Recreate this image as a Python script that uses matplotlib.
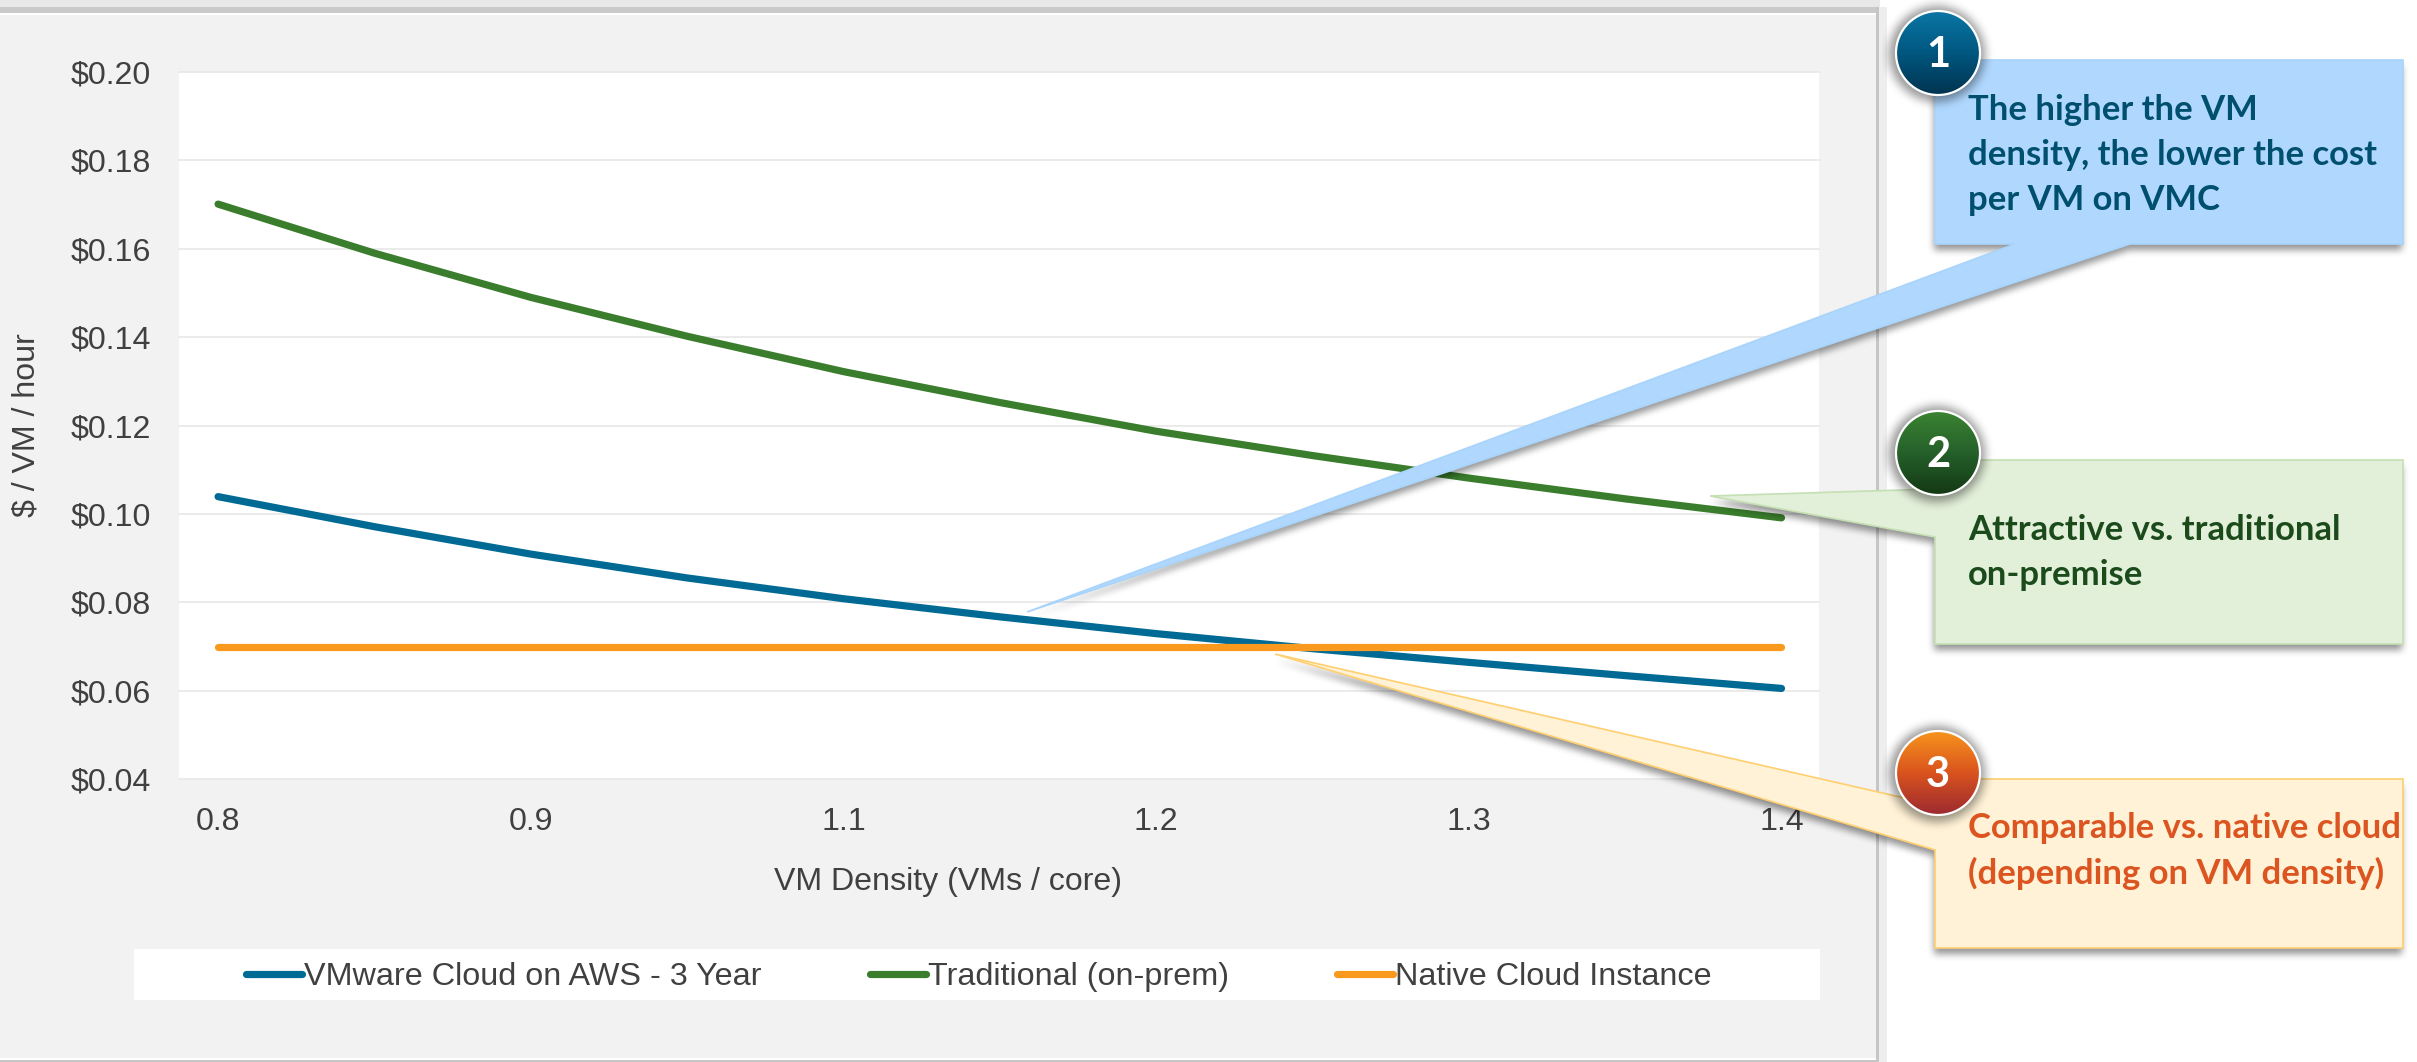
import numpy as np
import matplotlib
matplotlib.use("Agg")
import matplotlib.pyplot as plt
from matplotlib.patches import Rectangle, Polygon, Circle
from matplotlib.path import Path
from matplotlib.colors import LinearSegmentedColormap

# ---- data ----
density_labels = ["0.8", "0.9", "1.1", "1.2", "1.3", "1.4"]
sample_pos = [0, 0.5, 1, 1.5, 2, 2.5, 3, 3.5, 4, 4.5, 5]
vmc_cost = [0.1039, 0.0971, 0.0909, 0.0855, 0.0808, 0.0767, 0.0729, 0.0695, 0.0664, 0.0634, 0.0605]
trad_cost = [0.1701, 0.1590, 0.1490, 0.1402, 0.1322, 0.1252, 0.1187, 0.1132, 0.1081, 0.1034, 0.0991]
native_cost = [0.0698] * 11
y_ticks = [0.04, 0.06, 0.08, 0.10, 0.12, 0.14, 0.16, 0.18, 0.20]
series_names = ["VMware Cloud on AWS - 3 Year", "Traditional (on-prem)", "Native Cloud Instance"]
callout_texts = ["The higher the VM\ndensity, the lower the cost\nper VM on VMC",
                 "Attractive vs. traditional\non-premise",
                 "Comparable vs. native cloud\n(depending on VM density)"]

W, H = 2417, 1062
BLUE, GREEN, ORANGE = "#006a94", "#3a7d2c", "#f9991d"
TXT = "#404040"
FS = 23.1
plt.rcParams["font.family"] = ["Liberation Sans", "DejaVu Sans"]

fig = plt.figure(figsize=(W / 100, H / 100), dpi=100, facecolor="white")

# background layer (pixel coordinates of the picture)
bg = fig.add_axes([0, 0, 1, 1], zorder=0)
bg.set_xlim(0, W); bg.set_ylim(H, 0); bg.axis("off")
for x, y, w, h, c in [(0, 0, 1880, 7, "#e8e8e8"), (0, 7, 1880, 6, "#cacaca"),
                      (0, 15, 1876, 1043, "#f2f2f2"),
                      (1876, 7, 3, 1055, "#c6c6c6"), (1879, 7, 8, 1055, "#eeeeee"),
                      (0, 1060, 1879, 2, "#c6c6c6")]:
    bg.add_patch(Rectangle((x, y), w, h, fc=c, ec="none"))
bg.add_patch(Rectangle((134, 949), 1686, 51, fc="white", ec="none"))

# chart
ax = fig.add_axes([179 / W, 1 - 779 / H, 1640 / W, 707 / H], zorder=1)
ax.set_facecolor("white")
ax.set_xlim(-0.125, 5.12)
ax.set_ylim(0.04, 0.20)
for s in ax.spines.values():
    s.set_visible(False)
ax.set_yticks(y_ticks)
ax.set_yticklabels([f"${v:.2f}" for v in y_ticks])
ax.set_xticks(range(len(density_labels)))
ax.set_xticklabels(density_labels)
ax.tick_params(axis="both", length=0, labelsize=FS, labelcolor=TXT)
ax.tick_params(axis="y", pad=20)
ax.tick_params(axis="x", pad=20.5)
ax.yaxis.grid(True, color="#e9e9e9", lw=1.3, zorder=1, clip_on=False)
ax.set_axisbelow(True)
LW = 5.2
l1, = ax.plot(sample_pos, vmc_cost, color=BLUE, lw=LW, solid_capstyle="round", zorder=3)
l2, = ax.plot(sample_pos, trad_cost, color=GREEN, lw=LW, solid_capstyle="round", zorder=3)
l3, = ax.plot(sample_pos, native_cost, color=ORANGE, lw=LW, solid_capstyle="round", zorder=4)
ax.set_xlabel("VM Density (VMs / core)", fontsize=FS, color=TXT, va="center")
ax.xaxis.set_label_coords((948 - 179) / 1640, -(882 - 779) / 707)
ax.set_ylabel("$ / VM / hour", fontsize=FS, color=TXT, va="center")
ax.yaxis.set_label_coords((27 - 179) / 1640, 0.5)
leg = ax.legend([l1, l2, l3], series_names, ncol=3, frameon=False, fontsize=23.3,
                labelcolor=TXT, loc="center left",
                bbox_to_anchor=(246 / W, 1 - 977 / H), bbox_transform=fig.transFigure,
                borderaxespad=0, borderpad=0, handlelength=1.74, handletextpad=0.06,
                columnspacing=3.34)

# callouts layer
ov = fig.add_axes([0, 0, 1, 1], zorder=2)
ov.set_xlim(0, W); ov.set_ylim(H, 0); ov.axis("off"); ov.patch.set_alpha(0)


def box_blur(a, r, passes=3):
    for axis in (0, 1):
        for _ in range(passes):
            pad = [(0, 0), (0, 0)]
            pad[axis] = (r + 1, r)
            c = np.cumsum(np.pad(a, pad, mode="edge"), axis=axis)
            if axis == 0:
                a = (c[2 * r + 1:, :] - c[:-(2 * r + 1), :]) / (2 * r + 1)
            else:
                a = (c[:, 2 * r + 1:] - c[:, :-(2 * r + 1)]) / (2 * r + 1)
    return a


def soft_shadow(paths, r, alpha, zorder):
    gx, gy = np.meshgrid(np.arange(W) + 0.5, np.arange(H) + 0.5)
    pts = np.column_stack([gx.ravel(), gy.ravel()])
    mask = np.zeros((H, W))
    for pth in paths:
        mask = np.maximum(mask, pth.contains_points(pts).reshape(H, W).astype(float))
    rgba = np.zeros((H, W, 4))
    rgba[..., 3] = box_blur(mask, r) * alpha
    ov.imshow(rgba, extent=(0, W, H, 0), aspect="auto", interpolation="nearest", zorder=zorder)


shapes = [
    ([(1935, 60), (2403, 60), (2403, 244), (2130, 244), (1027, 612), (2015, 244), (1935, 244)],
     "#b0d8ff", "#a8d4fb"),
    ([(1935, 460), (2403, 460), (2403, 644), (1935, 644), (1935, 537), (1710, 496), (1935, 489)],
     "#e2efd9", "#c5e0b3"),
    ([(1935, 779), (2403, 779), (2403, 948), (1935, 948), (1935, 850), (1275, 654), (1935, 805)],
     "#fff2d6", "#ffcf70"),
]
soft_shadow([Path(np.vstack([np.array(p, float) + [-1, 6], p[0]]), closed=True) for p, _, _ in shapes],
            3, 0.42, 2)
for pts, fc, ec in shapes:
    ov.add_patch(Polygon(pts, closed=True, fc=fc, ec=ec, lw=1.2, joinstyle="miter", zorder=3))

circles = [((1938, 53), "1", ["#0a76a6", "#00577f", "#003350"]),
           ((1938, 453), "2", ["#3b8332", "#25602a", "#143814"]),
           ((1938, 773), "3", ["#f7941d", "#d9531e", "#9c2a30"])]
R = 42
soft_shadow([Path.circle((cx - 1, cy + 1), R + 6) for (cx, cy), _, _ in circles], 4, 0.4, 4)
for (cx, cy), num, cols in circles:
    grad = np.linspace(0, 1, 128).reshape(-1, 1)
    im = ov.imshow(grad, extent=(cx - R, cx + R, cy + R, cy - R), aspect="auto", origin="upper",
                   cmap=LinearSegmentedColormap.from_list("g", cols), zorder=5)
    im.set_clip_path(Circle((cx, cy), R, transform=ov.transData))
    ov.add_patch(Circle((cx, cy), R, fc="none", ec="white", lw=1.6, zorder=6))
    ov.text(cx, cy + 2, num, color="white", fontsize=30, fontweight="bold", family="Lato",
            ha="center", va="center", zorder=7)
ov.set_xlim(0, W); ov.set_ylim(H, 0)

text_specs = [(callout_texts[0], [110, 155, 200], "#004f6e"),
              (callout_texts[1], [530, 575], "#1b4a1b"),
              (callout_texts[2], [828, 873], "#dc5420")]
for txt, ys, col in text_specs:
    for line, y in zip(txt.split("\n"), ys):
        ov.text(1968, y, line, color=col, fontsize=24.9, fontweight="bold", family="Lato",
                ha="left", va="center", zorder=7)

fig.savefig("out.png", dpi=100)
